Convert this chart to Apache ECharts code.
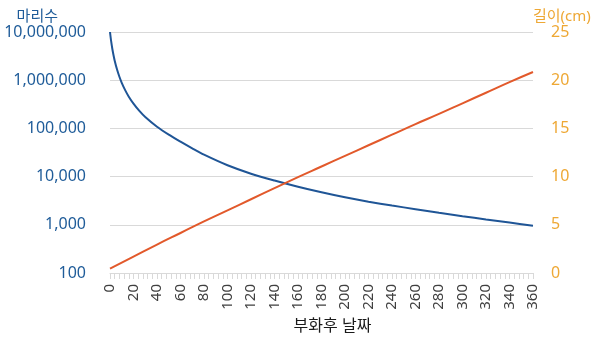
<!DOCTYPE html>
<html>
<head>
<meta charset="utf-8">
<script src="https://cdn.jsdelivr.net/npm/echarts@6/dist/echarts.min.js"></script>
<style>
html,body{margin:0;padding:0;background:#fff;}
#chart{width:600px;height:344px;}
</style>
</head>
<body>
<div id="chart"></div>
<script>
// Days after hatching (x values) for the count curve
var days = [0, 1, 2, 3, 4, 6, 8, 10, 13, 16, 20, 25, 30, 40, 50, 60, 70, 80, 100, 120, 140, 160, 180, 200, 220, 240, 260, 280, 300, 320, 340, 360];
// Number of fish (마리수), log axis
var counts = [10000000, 6360000, 4440000, 3290000, 2540000, 1660000, 1180000, 883000, 615000, 455000, 326000, 230000, 172000, 108000, 74000, 53000, 38500, 28500, 17200, 11500, 8300, 6170, 4730, 3720, 3020, 2510, 2110, 1780, 1510, 1290, 1110, 955];
// Days for the length line
var lenDays = [0, 20, 40, 60, 80, 100, 120, 140, 160, 180, 200, 220, 240, 260, 280, 300, 320, 340, 360];
// Length (길이, cm)
var lengths = [0.45, 1.7, 2.95, 4.15, 5.35, 6.5, 7.65, 8.8, 9.95, 11.05, 12.15, 13.25, 14.35, 15.45, 16.5, 17.6, 18.7, 19.8, 20.85];

var leftName = '마리수';
var rightName = '길이(cm)';
var xName = '부화후 날짜';

var FONT = '"Noto Sans", "Noto Sans CJK KR", sans-serif';
var BLUE_TXT = '#1F5C99';
var GOLD_TXT = '#EEA835';

var chart = echarts.init(document.getElementById('chart'), null, {renderer: 'canvas'});
chart.setOption({
  animation: false,
  textStyle: {fontFamily: FONT},
  grid: {left: 110, right: 67, top: 32, bottom: 71, containLabel: false},
  xAxis: {
    type: 'value', min: 0, max: 360, interval: 20,
    name: xName, nameLocation: 'middle', nameGap: 45,
    nameTextStyle: {color: '#1a1a1a', fontSize: 16, fontFamily: FONT, padding: [0, 0, 0, 22]},
    axisLine: {show: true, lineStyle: {color: '#D9D9D9', width: 1}},
    axisTick: {show: true, length: 6, lineStyle: {color: '#D9D9D9'}},
    minorTick: {show: true, splitNumber: 5, length: 6, lineStyle: {color: '#D9D9D9'}},
    splitLine: {show: false},
    axisLabel: {rotate: 90, color: '#404040', fontSize: 15, margin: 11, fontFamily: FONT}
  },
  yAxis: [{
    type: 'log', logBase: 10, min: 100, max: 10000000,
    name: leftName, nameLocation: 'end', nameGap: 8,
    nameTextStyle: {color: BLUE_TXT, fontSize: 15, align: 'right', padding: [0, 52, 0, 0], fontFamily: FONT},
    axisLine: {show: false}, axisTick: {show: false},
    splitLine: {show: true, lineStyle: {color: '#D9D9D9', width: 1}},
    axisLabel: {color: BLUE_TXT, fontSize: 16, margin: 24, fontFamily: FONT,
      formatter: function (v) { return Math.round(v).toLocaleString('en-US'); }}
  }, {
    type: 'value', min: 0, max: 25, interval: 5, position: 'right',
    name: rightName, nameLocation: 'end', nameGap: 8,
    nameTextStyle: {color: GOLD_TXT, fontSize: 15, align: 'left', padding: [0, 0, 0, 0], fontFamily: FONT},
    axisLine: {show: false}, axisTick: {show: false},
    splitLine: {show: false},
    axisLabel: {color: GOLD_TXT, fontSize: 16, margin: 18, fontFamily: FONT}
  }],
  series: [{
    type: 'line', yAxisIndex: 0, smooth: 0.3, symbol: 'none',
    lineStyle: {color: '#1F5596', width: 2},
    data: days.map(function (d, i) { return [d, counts[i]]; })
  }, {
    type: 'line', yAxisIndex: 1, smooth: true, symbol: 'none',
    lineStyle: {color: '#E2592B', width: 2},
    data: lenDays.map(function (d, i) { return [d, lengths[i]]; })
  }]
});
</script>
</body>
</html>
